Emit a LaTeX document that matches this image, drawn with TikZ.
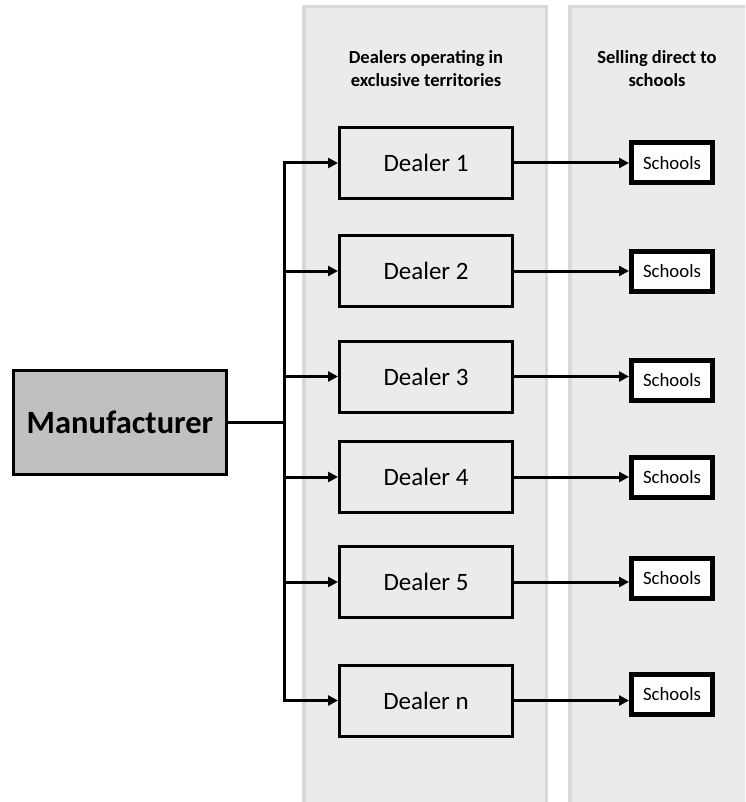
\documentclass[tikz,border=0pt]{standalone}
\usepackage{fontspec}
\setmainfont{Carlito}
\usetikzlibrary{arrows.meta}
\definecolor{panelfill}{HTML}{EBEBEB}
\definecolor{panelline}{HTML}{D9D9D9}
\definecolor{makerfill}{HTML}{C0C0C0}
\begin{document}
\begin{tikzpicture}[x=1pt,y=-1pt,
  panel/.style={draw=panelline,fill=panelfill,line width=3.5pt},
  header/.style={align=center,font=\bfseries\fontsize{18.5}{23}\selectfont},
  maker/.style={draw=black,fill=makerfill,line width=3pt,minimum width=213pt,
    minimum height=104pt,inner sep=0pt,font=\bfseries\fontsize{32.5}{38}\selectfont},
  dealer/.style={draw=black,fill=panelfill,line width=3pt,minimum width=173pt,
    minimum height=71pt,inner sep=0pt,font=\fontsize{25}{30}\selectfont},
  school/.style={draw=black,fill=white,line width=5pt,minimum width=81pt,
    minimum height=40pt,inner sep=0pt,font=\fontsize{18.8}{22}\selectfont},
  conn/.style={draw=black,line width=3pt},
  arr/.style={conn,-{Triangle[length=10pt,width=10pt]}}]
\useasboundingbox (0,0) rectangle (745,802);
\clip (0,0) rectangle (745,802);

% background columns
\draw[panel] (303.75,6.75) rectangle (546.25,830);
\draw[panel] (569.75,6.75) rectangle (780,830);
\node[header] (h1) at (426,69) {Dealers operating in\\exclusive territories};
\node[header] (h2) at (657,69) {Selling direct to\\schools};

% manufacturer
\node[maker] (m) at (120,422.5) {Manufacturer};

% dealers
\node[dealer] (d1) at (426,163) {Dealer 1};
\node[dealer] (d2) at (426,271) {Dealer 2};
\node[dealer] (d3) at (426,376.5) {Dealer 3};
\node[dealer] (d4) at (426,477) {Dealer 4};
\node[dealer] (d5) at (426,582) {Dealer 5};
\node[dealer] (dn) at (426,700.5) {Dealer n};

% schools
\node[school] (s1) at (672,163) {Schools};
\node[school] (s2) at (672,271) {Schools};
\node[school] (s3) at (672,380) {Schools};
\node[school] (s4) at (672,477) {Schools};
\node[school] (s5) at (672,578.5) {Schools};
\node[school] (sn) at (672,694) {Schools};

% distribution trunk
\coordinate (jt) at (284,163);
\coordinate (jb) at (284,700.5);
\draw[conn,line join=miter,{Triangle[length=10pt,width=10pt]}-{Triangle[length=10pt,width=10pt]}]
  (d1.west) -- (jt) -- (jb) -- (dn.west);
\draw[conn] (m.east) -- (m.east -| jt);
\foreach \d in {d2,d3,d4,d5}
  \draw[arr] (\d.west -| jt) -- (\d.west);

% dealers to schools
\foreach \d/\s in {d1/s1,d2/s2,d3/s3,d4/s4,d5/s5,dn/sn}
  \draw[arr] (\d.east) -- (\d.east -| \s.west);
\end{tikzpicture}
\end{document}
